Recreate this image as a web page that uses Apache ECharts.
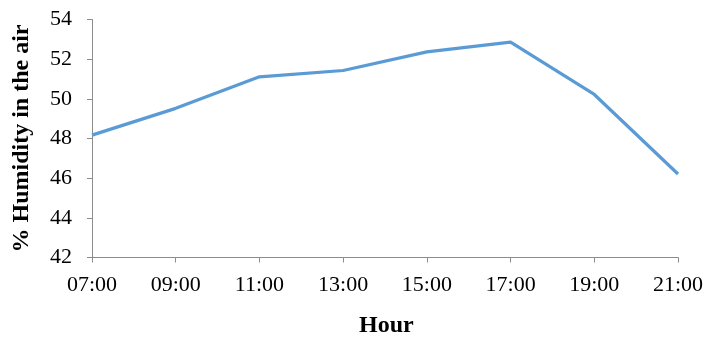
<!DOCTYPE html>
<html>
<head>
<meta charset="utf-8">
<script src="https://cdn.jsdelivr.net/npm/echarts@6/dist/echarts.min.js"></script>
<style>html,body{margin:0;padding:0;background:#fff}#c{width:708px;height:341px}</style>
</head>
<body>
<div id="c"></div>
<script>
var categories = ['07:00','09:00','11:00','13:00','15:00','17:00','19:00','21:00'];
var humidity = [48.17, 49.52, 51.11, 51.43, 52.37, 52.86, 50.22, 46.21];
var yMin = 42, yMax = 54, yStep = 2;
var xTitle = 'Hour';
var yTitle = '% Humidity in the air';

var chart = echarts.init(document.getElementById('c'), null, {renderer:'canvas'});
var font = '"Liberation Serif", "Times New Roman", serif';
chart.setOption({
  animation: false,
  backgroundColor: '#fff',
  grid: {left: 92, right: 30, top: 19.5, bottom: 83.5, containLabel: false},
  xAxis: {
    type: 'category', data: categories, boundaryGap: false,
    axisLine: {lineStyle: {color: '#8c8c8c', width: 1}},
    axisTick: {show: true, alignWithLabel: true, length: 5, lineStyle: {color: '#8c8c8c'}},
    axisLabel: {color: '#000', fontFamily: font, fontSize: 22, margin: 17},
    splitLine: {show: false}
  },
  yAxis: {
    type: 'value', min: yMin, max: yMax, interval: yStep,
    name: yTitle, nameLocation: 'middle', nameGap: 58,
    nameTextStyle: {color: '#000', fontFamily: font, fontSize: 24, fontWeight: 'bold'},
    axisLine: {show: true, lineStyle: {color: '#8c8c8c', width: 1}},
    axisTick: {show: true, length: 5, lineStyle: {color: '#8c8c8c'}},
    axisLabel: {color: '#000', fontFamily: font, fontSize: 22, margin: 20},
    splitLine: {show: false}
  },
  graphic: [{
    type: 'text', left: 359, top: 314,
    style: {text: xTitle, font: 'bold 24px ' + font, fill: '#000', textAlign: 'center'}
  }],
  series: [{
    type: 'line', data: humidity, symbol: 'none', smooth: false,
    lineStyle: {color: '#5b9bd5', width: 3.2}
  }]
});
</script>
</body>
</html>
